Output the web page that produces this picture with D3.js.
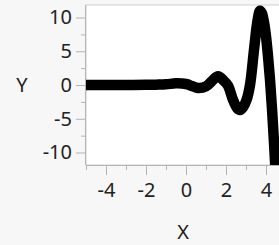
<!DOCTYPE html>
<html>
<head>
<meta charset="utf-8">
<script src="https://cdn.jsdelivr.net/npm/d3@7"></script>
<style>
  body { margin: 0; background: #f7f7f7; }
  svg { display: block; }
  text { font-family: "Noto Sans", "Open Sans", sans-serif; fill: #222; }
</style>
</head>
<body>
<script>
// curve
const xs = [-5, -4, -3, -2, -1.5, -1, -0.5, 0, 0.3, 0.6, 1.0, 1.3, 1.6, 1.9, 2.1, 2.35, 2.55, 2.7, 2.85, 3.03, 3.2, 3.4, 3.58, 3.7, 3.8, 3.9, 4.0, 4.1, 4.2, 4.3, 4.4, 4.5, 4.6];
const ys = [0, 0, 0, 0.02, 0.05, 0.1, 0.25, 0.15, -0.15, -0.45, -0.2, 0.6, 1.3, 0.6, -0.1, -2.2, -3.4, -3.7, -3.3, -2.2, 0, 5.2, 9.6, 11, 10.6, 9.3, 7.2, 4.3, 0.8, -3.5, -8.5, -14, -20];

const xTicks = [-4, -2, 0, 2, 4];
const xMinor = [-5, -3, -1, 1, 3];
const yTicks = [-10, -5, 0, 5, 10];
const yMinor = [-7.5, -2.5, 2.5, 7.5];

const W = 279, H = 245;
const pLeft = 86, pTop = 5, pBottom = 165, pRight = 280;

const svg = d3.select('body').append('svg')
    .attr('width', W)
    .attr('height', H);

const x = d3.scaleLinear().domain([-5, 4.7]).range([pLeft, pRight]);
const y = d3.scaleLinear().domain([-11.85, 11.85]).range([pBottom, pTop]);

// plot area
svg.append('rect')
    .attr('x', pLeft).attr('y', pTop)
    .attr('width', pRight - pLeft).attr('height', pBottom - pTop)
    .attr('fill', 'white')
    .attr('stroke', '#d0d0d0');

svg.append('clipPath').attr('id', 'clip')
  .append('rect')
    .attr('x', pLeft).attr('y', pTop)
    .attr('width', pRight - pLeft).attr('height', pBottom - pTop);

const pts = xs.map((v, i) => [v, ys[i]]);
const line = d3.line()
    .x(d => x(d[0]))
    .y(d => y(d[1]))
    .curve(d3.curveCatmullRom.alpha(0.5));

svg.append('path')
    .datum(pts)
    .attr('clip-path', 'url(#clip)')
    .attr('d', line)
    .attr('fill', 'none')
    .attr('stroke', 'black')
    .attr('stroke-width', 10.5)
    .attr('stroke-linejoin', 'round');

// axes
const axisColor = '#b4b4b4';
const fmt = d => String(d); // plain hyphen, not the unicode minus

const gx = svg.append('g').attr('transform', `translate(0, ${pBottom})`);
gx.call(d3.axisBottom(x).tickValues(xTicks).tickSize(10).tickPadding(8).tickFormat(fmt));
gx.append('g').call(d3.axisBottom(x).tickValues(xMinor).tickSize(5).tickFormat(''));
gx.selectAll('path.domain').attr('d', `M${pLeft},0.5H${pRight}`).attr('stroke', axisColor);

const gy = svg.append('g').attr('transform', `translate(${pLeft}, 0)`);
gy.call(d3.axisLeft(y).tickValues(yTicks).tickSize(10).tickPadding(4).tickFormat(fmt));
gy.append('g').call(d3.axisLeft(y).tickValues(yMinor).tickSize(5).tickFormat(''));
gy.selectAll('path.domain').attr('d', `M-0.5,${pTop}V${pBottom}`).attr('stroke', axisColor);

svg.selectAll('.tick line').attr('stroke', axisColor);
svg.selectAll('.tick text')
    .style('font-size', '20px')
    .style('font-family', '"Noto Sans", sans-serif')
    .attr('fill', '#222');

svg.append('text')
    .attr('x', 183).attr('y', 239)
    .attr('text-anchor', 'middle')
    .style('font-size', '20px')
    .text('X');

svg.append('text')
    .attr('x', 22).attr('y', 92)
    .attr('text-anchor', 'middle')
    .style('font-size', '20px')
    .text('Y');
</script>
</body>
</html>
